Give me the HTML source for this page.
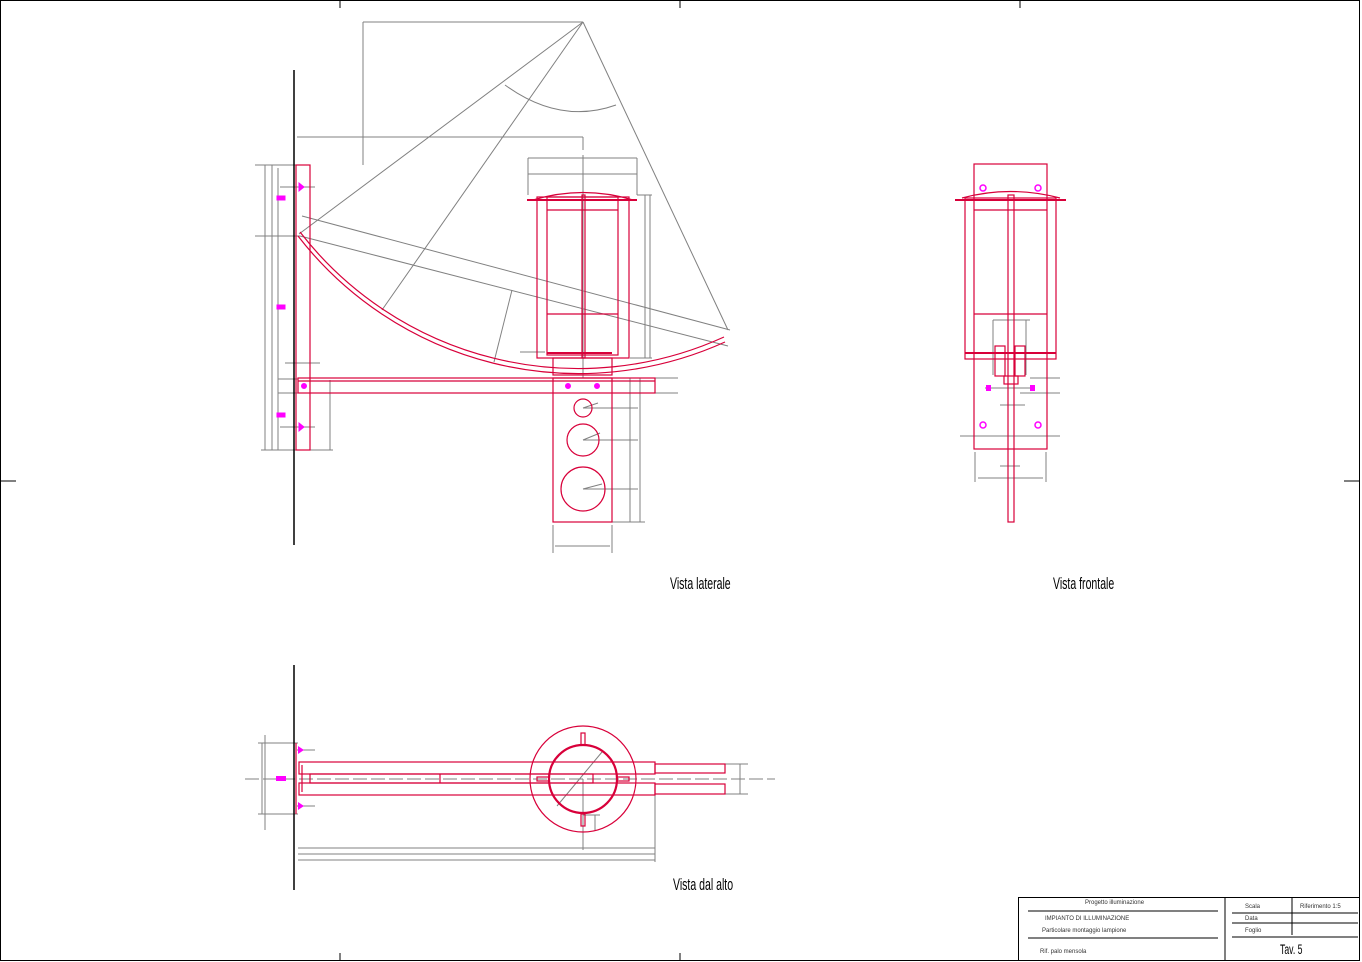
<!DOCTYPE html>
<html><head><meta charset="utf-8"><style>
html,body{margin:0;padding:0;background:#fff}
svg{display:block}
text{font-family:"Liberation Sans",sans-serif}
</style></head><body>
<svg width="1362" height="962" viewBox="0 0 1362 962" xmlns="http://www.w3.org/2000/svg">
<rect x="0.5" y="0.5" width="1359" height="960" fill="none" stroke="#000"/>
<g stroke="#000" stroke-width="1">
<line x1="340" y1="0" x2="340" y2="8"/><line x1="680" y1="0" x2="680" y2="8"/><line x1="1020" y1="0" x2="1020" y2="8"/>
<line x1="340" y1="953" x2="340" y2="961"/><line x1="680" y1="953" x2="680" y2="961"/>
<line x1="0" y1="481" x2="16" y2="481"/><line x1="1344" y1="481" x2="1360" y2="481"/>
</g>

<!-- SIDE VIEW -->
<g fill="none" stroke="#808080" stroke-width="1">
<line x1="363" y1="22" x2="583" y2="22"/><line x1="363" y1="22" x2="363" y2="165"/>
<line x1="583" y1="22" x2="299" y2="234"/>
<line x1="583" y1="22" x2="382" y2="310"/>
<line x1="583" y1="22" x2="728" y2="330"/>
<path d="M505 85 Q560 125 616 105"/>
<line x1="297" y1="137" x2="583" y2="137"/><line x1="583" y1="137" x2="583" y2="150"/>
<line x1="302" y1="216" x2="730" y2="330"/>
<line x1="300" y1="236" x2="728" y2="346"/>
<line x1="512" y1="290" x2="494" y2="362"/>
<line x1="255" y1="165" x2="310" y2="165"/><line x1="255" y1="236" x2="300" y2="236"/>
<line x1="261" y1="450" x2="333" y2="450"/>
<line x1="265" y1="165" x2="265" y2="450"/><line x1="272" y1="165" x2="272" y2="450"/><line x1="278" y1="168" x2="278" y2="450"/>
<line x1="280" y1="187" x2="315" y2="187"/><line x1="280" y1="427" x2="315" y2="427"/>
<line x1="330" y1="380" x2="330" y2="450"/>
<line x1="285" y1="363" x2="320" y2="363"/>
<line x1="278" y1="379" x2="298" y2="379"/><line x1="278" y1="393" x2="298" y2="393"/>
<line x1="528" y1="158" x2="637" y2="158"/><line x1="528" y1="158" x2="528" y2="195"/><line x1="637" y1="158" x2="637" y2="195"/>
<line x1="528" y1="174" x2="637" y2="174"/>
<line x1="583" y1="155" x2="583" y2="378"/>
<line x1="637" y1="195" x2="652" y2="195"/><line x1="630" y1="358" x2="652" y2="358"/>
<line x1="645" y1="195" x2="645" y2="358"/><line x1="650" y1="195" x2="650" y2="358"/>
<line x1="520" y1="352" x2="545" y2="352"/>
<line x1="612" y1="522" x2="645" y2="522"/><line x1="640" y1="378" x2="640" y2="522"/><line x1="630" y1="378" x2="630" y2="522"/>
<line x1="583" y1="408" x2="638" y2="408"/><line x1="583" y1="440" x2="638" y2="440"/><line x1="583" y1="489" x2="638" y2="489"/>
<line x1="553" y1="525" x2="553" y2="553"/><line x1="612" y1="525" x2="612" y2="553"/><line x1="555" y1="546" x2="610" y2="546"/>
<line x1="655" y1="378" x2="678" y2="378"/><line x1="655" y1="393" x2="678" y2="393"/>
<line x1="583" y1="440" x2="600" y2="433"/><line x1="583" y1="489" x2="602" y2="484"/><line x1="583" y1="408" x2="598" y2="403"/>
</g>
<line x1="294" y1="70" x2="294" y2="545" stroke="#000" stroke-width="1.5"/>
<g fill="none" stroke="#d8003a" stroke-width="1.2">
<rect x="296" y="165" width="14" height="285"/>
<rect x="298" y="378" width="357" height="15"/>
<line x1="298" y1="381" x2="655" y2="381"/>
<path d="M298 236 A355 355 0 0 0 725 342"/>
<path d="M300 232 A352 352 0 0 0 724 337"/>
<rect x="537" y="197" width="92" height="161"/>
<rect x="547" y="197" width="71" height="158"/>
<line x1="547" y1="210" x2="618" y2="210"/><line x1="547" y1="314" x2="618" y2="314"/>
<rect x="582" y="195" width="3" height="163"/>
<path d="M533 200 Q583 185 633 200"/>
<line x1="527" y1="200" x2="637" y2="200" stroke-width="2"/>
<line x1="547" y1="353" x2="612" y2="353" stroke-width="2"/>
<rect x="553" y="358" width="59" height="17"/>
<rect x="553" y="378" width="59" height="144"/>
<circle cx="583" cy="408" r="9"/><circle cx="583" cy="440" r="16"/><circle cx="583" cy="489" r="22"/>
</g>
<g fill="#f0f" stroke="#f0f">
<rect x="277" y="196" width="8" height="4"/><rect x="277" y="305" width="8" height="4"/><rect x="277" y="413" width="8" height="4"/>
<path d="M299 183 L304 187 L299 191Z"/><path d="M299 423 L304 427 L299 431Z"/>
<circle cx="304" cy="386" r="2.5"/><circle cx="568" cy="386" r="2.5"/><circle cx="597" cy="386" r="2.5"/>
</g>

<!-- FRONT VIEW -->
<g fill="none" stroke="#808080">
<line x1="993" y1="320" x2="1030" y2="320"/><line x1="993" y1="320" x2="993" y2="375"/><line x1="1026" y1="320" x2="1026" y2="375"/>
<line x1="960" y1="436" x2="1060" y2="436"/>
<line x1="975" y1="452" x2="975" y2="482"/><line x1="1046" y1="452" x2="1046" y2="482"/><line x1="978" y1="478" x2="1043" y2="478"/>
<line x1="1000" y1="466" x2="1020" y2="466"/>
<line x1="1030" y1="378" x2="1060" y2="378"/><line x1="1020" y1="393" x2="1060" y2="393"/>
<line x1="1000" y1="405" x2="1025" y2="405"/>
<line x1="985" y1="388" x2="1035" y2="388"/>
</g>
<g fill="none" stroke="#d8003a" stroke-width="1.2">
<rect x="974" y="164" width="73" height="285"/>
<rect x="965" y="198" width="91" height="161"/>
<line x1="974" y1="210" x2="1047" y2="210"/><line x1="974" y1="314" x2="1047" y2="314"/>
<line x1="955" y1="200" x2="1066" y2="200" stroke-width="2"/>
<path d="M962 198 Q1010 185 1060 198"/>
<rect x="1008" y="195" width="6" height="327"/>
<rect x="995" y="346" width="10" height="30"/><rect x="1015" y="346" width="10" height="30"/>
<line x1="965" y1="353" x2="1056" y2="353" stroke-width="2"/>
<rect x="1004" y="376" width="14" height="8"/>
</g>
<g fill="none" stroke="#f0f" stroke-width="1.5">
<circle cx="983" cy="188" r="3"/><circle cx="1038" cy="188" r="3"/><circle cx="983" cy="425" r="3"/><circle cx="1038" cy="425" r="3"/>
</g>
<g fill="#f0f"><rect x="986" y="385" width="5" height="6"/><rect x="1030" y="385" width="5" height="6"/></g>

<!-- TOP VIEW -->
<g fill="none" stroke="#808080">
<line x1="245" y1="779" x2="775" y2="779" stroke-dasharray="14 4"/>
<line x1="258" y1="743" x2="298" y2="743"/><line x1="258" y1="814" x2="298" y2="814"/>
<line x1="262" y1="743" x2="262" y2="814"/><line x1="265" y1="735" x2="265" y2="830"/>
<line x1="297" y1="750" x2="315" y2="750"/><line x1="297" y1="806" x2="315" y2="806"/>
<line x1="298" y1="848" x2="655" y2="848"/><line x1="298" y1="854" x2="655" y2="854"/><line x1="298" y1="860" x2="655" y2="860"/>
<line x1="655" y1="795" x2="655" y2="862"/>
<line x1="583" y1="779" x2="583" y2="850"/>
<line x1="557" y1="806" x2="602" y2="752"/>
<line x1="725" y1="764" x2="748" y2="764"/><line x1="725" y1="794" x2="748" y2="794"/><line x1="740" y1="764" x2="740" y2="794"/>
<line x1="583" y1="815" x2="600" y2="815"/><line x1="595" y1="815" x2="595" y2="830"/>
</g>
<line x1="294" y1="665" x2="294" y2="890" stroke="#000" stroke-width="1.5"/>
<g fill="none" stroke="#d8003a" stroke-width="1.2">
<line x1="296" y1="743" x2="296" y2="814"/>
<rect x="299" y="762" width="356" height="12"/><rect x="299" y="783" width="356" height="12"/>
<line x1="302" y1="765" x2="302" y2="792"/>
<rect x="655" y="764" width="70" height="9"/><rect x="655" y="784" width="70" height="10"/>
<rect x="310" y="774" width="283" height="9"/>
<line x1="440" y1="774" x2="440" y2="783"/>
<circle cx="583" cy="779" r="53"/>
<circle cx="583" cy="779" r="34" stroke-width="2.2"/>
<rect x="581" y="733" width="4" height="12"/><rect x="581" y="814" width="4" height="12"/>
<rect x="537" y="777" width="12" height="4"/><rect x="617" y="777" width="12" height="4"/>
</g>
<g fill="#f0f"><rect x="276" y="776" width="10" height="5"/><path d="M298 746 L304 750 L298 754Z"/><path d="M298 802 L304 806 L298 810Z"/></g>

<!-- Labels -->
<g font-size="17" fill="#000">
<text x="670" y="589" transform="translate(670 589) scale(0.62 1) translate(-670 -589)">Vista laterale</text>
<text x="1053" y="589" transform="translate(1053 589) scale(0.62 1) translate(-1053 -589)">Vista frontale</text>
<text x="673" y="890" transform="translate(673 890) scale(0.62 1) translate(-673 -890)">Vista dal alto</text>
</g>

<!-- Title block -->
<g fill="none" stroke="#000">
<rect x="1018.5" y="897.5" width="341" height="63"/>
<line x1="1225" y1="897" x2="1225" y2="961"/>
<line x1="1028" y1="911" x2="1218" y2="911"/><line x1="1028" y1="938" x2="1218" y2="938"/>
<line x1="1232" y1="913" x2="1358" y2="913"/><line x1="1232" y1="923" x2="1358" y2="923"/><line x1="1232" y1="937" x2="1358" y2="937"/>
<line x1="1292" y1="897" x2="1292" y2="935"/>
</g>
<g font-size="6" fill="#333">
<text x="1085" y="904">Progetto illuminazione</text>
<text x="1045" y="920">IMPIANTO DI ILLUMINAZIONE</text>
<text x="1042" y="932">Particolare montaggio lampione</text>
<text x="1040" y="953">Rif. palo mensola</text>
<text x="1245" y="908">Scala</text><text x="1300" y="908">Riferimento 1:5</text>
<text x="1245" y="920">Data</text><text x="1245" y="932">Foglio</text>
</g>
<text x="1280" y="954" font-size="14" fill="#000" transform="translate(1280 954) scale(0.62 1) translate(-1280 -954)">Tav. 5</text>
</svg>
</body></html>
